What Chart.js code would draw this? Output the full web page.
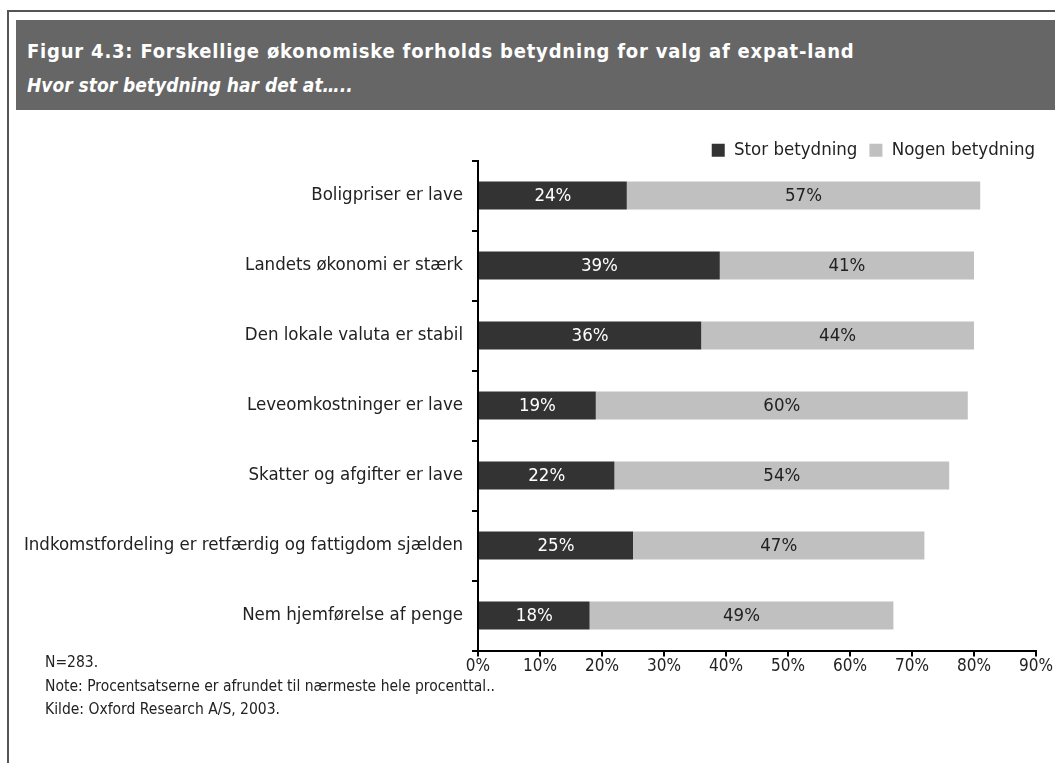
<!DOCTYPE html>
<html>
<head>
<meta charset="utf-8">
<script src="https://cdn.jsdelivr.net/npm/chart.js@4"></script>
<style>
  body { margin: 0; width: 1055px; height: 763px; background: #fff; overflow: hidden;
         font-family: "DejaVu Sans Condensed", sans-serif; }
  .frame { position: absolute; left: 7px; top: 10px; right: 0; bottom: 0;
           border-left: 2px solid #555; border-top: 2px solid #555; }
  .head { position: absolute; left: 16px; top: 20px; right: 0; height: 90px; background: #666; color: #fff; }
  .head .t { position: absolute; left: 11px; top: 19px; font-size: 20px; font-weight: bold; letter-spacing: 0.8px; }
  .head .s { position: absolute; left: 11px; top: 54px; font-size: 19px; font-weight: bold; font-style: italic; }
  .notes { position: absolute; left: 45px; top: 651px; font-size: 15.5px; line-height: 23.5px; color: #222; }
  #wrap { position: absolute; left: 0; top: 129px; width: 1055px; height: 556px; }
</style>
</head>
<body>
<div class="frame"></div>
<div class="head">
  <div class="t">Figur 4.3: Forskellige økonomiske forholds betydning for valg af expat-land</div>
  <div class="s">Hvor stor betydning har det at…..</div>
</div>
<div id="wrap"><canvas id="chart"></canvas></div>
<div class="notes">N=283.<br>Note: Procentsatserne er afrundet til nærmeste hele procenttal..<br>Kilde: Oxford Research A/S, 2003.</div>
<script>
const categories = [
  "Boligpriser er lave",
  "Landets økonomi er stærk",
  "Den lokale valuta er stabil",
  "Leveomkostninger er lave",
  "Skatter og afgifter er lave",
  "Indkomstfordeling er retfærdig og fattigdom sjælden",
  "Nem hjemførelse af penge"
];
const storBetydning = [24, 39, 36, 19, 22, 25, 18];
const nogenBetydning = [57, 41, 44, 60, 54, 47, 49];
const xTicks = [0, 10, 20, 30, 40, 50, 60, 70, 80, 90];

const FONT = "'DejaVu Sans Condensed', sans-serif";

// simple in-bar labels
const barLabels = {
  id: "barLabels",
  afterDatasetsDraw(chart) {
    const ctx = chart.ctx;
    ctx.save();
    ctx.font = "18.5px " + FONT;
    ctx.textAlign = "center";
    ctx.textBaseline = "middle";
    chart.data.datasets.forEach((ds, i) => {
      const meta = chart.getDatasetMeta(i);
      ctx.fillStyle = i === 0 ? "#fff" : "#222";
      meta.data.forEach((bar, j) => {
        ctx.fillText(ds.data[j] + "%", (bar.x + bar.base) / 2, bar.y + 1);
      });
    });
    ctx.restore();
  }
};

// legend sits close to the plot, so drop most of the gap under it
const legendTrim = {
  id: "legendTrim",
  afterInit(chart) {
    const lg = chart.legend;
    const fit = lg.fit.bind(lg);
    lg.fit = function () { fit(); this.height -= 9; };
  }
};

new Chart(document.getElementById("chart"), {
  type: "bar",
  data: {
    labels: categories,
    datasets: [
      { label: "Stor betydning", data: storBetydning, backgroundColor: "#333333" },
      { label: "Nogen betydning", data: nogenBetydning, backgroundColor: "#c0c0c0" }
    ]
  },
  options: {
    indexAxis: "y",
    responsive: true,
    maintainAspectRatio: false,
    animation: false,
    datasets: { bar: { barPercentage: 0.4, categoryPercentage: 1 } },
    layout: { padding: { left: 0, right: 8, top: 0, bottom: 8 } },
    plugins: {
      tooltip: { enabled: false },
      legend: {
        position: "top",
        align: "end",
        labels: { boxWidth: 13, boxHeight: 13, color: "#222", font: { family: FONT, size: 18.5 }, padding: 12 }
      }
    },
    scales: {
      x: {
        stacked: true,
        min: 0,
        max: 90,
        afterBuildTicks: (s) => { s.ticks = xTicks.map(v => ({ value: v })); },
        afterFit: (s) => { s.paddingRight = 19; },
        grid: { drawOnChartArea: false, color: "#000", tickLength: 6, lineWidth: 2 },
        border: { color: "#000", width: 2 },
        ticks: { color: "#222", font: { family: FONT, size: 17 }, padding: 0, callback: (v) => v + "%" }
      },
      y: {
        stacked: true,
        afterFit: (s) => { s.width = 478; },
        grid: { drawOnChartArea: false, offset: true, color: "#000", tickLength: 6, lineWidth: 2 },
        border: { color: "#000", width: 2 },
        ticks: { color: "#222", font: { family: FONT, size: 18.5 }, padding: 9 }
      }
    }
  },
  plugins: [barLabels, legendTrim]
});
</script>
</body>
</html>
